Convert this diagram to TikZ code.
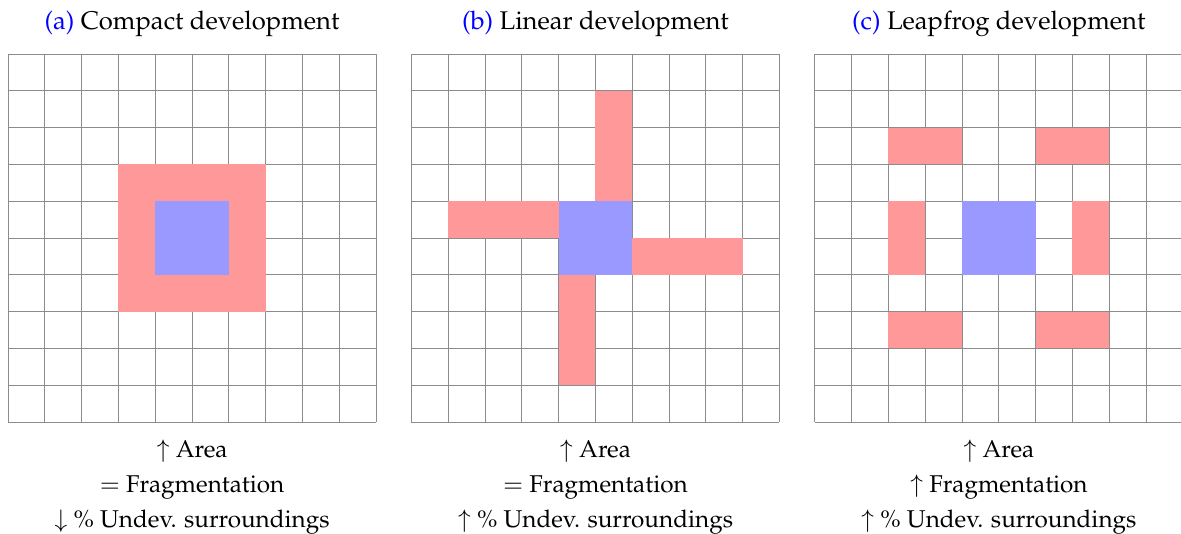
\documentclass[tikz,border=0pt]{standalone}
\usepackage[T1]{fontenc}
\usepackage{mathpazo}
\definecolor{devred}{RGB}{255,153,153}
\definecolor{devblue}{RGB}{153,153,255}
\definecolor{linkblue}{RGB}{0,0,255}
\begin{document}
\begin{tikzpicture}[x=0.75pt,y=-0.75pt,
  gridline/.style={draw=black!45, line width=0.7pt},
  ttl/.style={anchor=base, inner sep=0pt, font=\fontsize{19.2}{22}\selectfont},
  lbl/.style={anchor=base, inner sep=0pt, font=\fontsize{18.2}{22}\selectfont},
  redcell/.style={fill=devred},
  bluecell/.style={fill=devblue}]
\useasboundingbox (0,0) rectangle (1181,533);
\clip (0,0) rectangle (1181,533);
% ---------- grid (a)
\begin{scope}[shift={(8,54)}]
 \begin{scope}[x=27.6pt,y=-27.6pt]
  \foreach \i in {0,...,10} {\draw[gridline] (\i,0) -- (\i,10); \draw[gridline] (0,\i) -- (10,\i);}
  \fill[redcell] (3,3) rectangle (7,7);
  \fill[bluecell] (4,4) rectangle (6,6);
 \end{scope}
\end{scope}
% ---------- grid (b)
\begin{scope}[shift={(411.4,54)}]
 \begin{scope}[x=27.6pt,y=-27.6pt]
  \foreach \i in {0,...,10} {\draw[gridline] (\i,0) -- (\i,10); \draw[gridline] (0,\i) -- (10,\i);}
  \fill[redcell] (5,1) rectangle (6,4);
  \fill[redcell] (1,4) rectangle (4,5);
  \fill[redcell] (6,5) rectangle (9,6);
  \fill[redcell] (4,6) rectangle (5,9);
  \fill[bluecell] (4,4) rectangle (6,6);
 \end{scope}
\end{scope}
% ---------- grid (c)
\begin{scope}[shift={(814.8,54)}]
 \begin{scope}[x=27.6pt,y=-27.6pt]
  \foreach \i in {0,...,10} {\draw[gridline] (\i,0) -- (\i,10); \draw[gridline] (0,\i) -- (10,\i);}
  \fill[redcell] (2,2) rectangle (4,3);
  \fill[redcell] (6,2) rectangle (8,3);
  \fill[redcell] (2,4) rectangle (3,6);
  \fill[redcell] (7,4) rectangle (8,6);
  \fill[redcell] (2,7) rectangle (4,8);
  \fill[redcell] (6,7) rectangle (8,8);
  \fill[bluecell] (4,4) rectangle (6,6);
 \end{scope}
\end{scope}
% ---------- titles
\node[ttl] (ta) at (192,29) {{\color{linkblue}(a)} Compact development};
\node[ttl] (tb) at (595.4,29) {{\color{linkblue}(b)} Linear development};
\node[ttl] (tc) at (998.8,29) {{\color{linkblue}(c)} Leapfrog development};
% ---------- captions (a)
\node[lbl] (a1) at (192,457) {$\uparrow$ Area};
\node[lbl] (a2) at (192,492) {$=$ Fragmentation};
\node[lbl] (a3) at (192,527) {$\downarrow$ \% Undev. surroundings};
% ---------- captions (b)
\node[lbl] (b1) at (595.4,457) {$\uparrow$ Area};
\node[lbl] (b2) at (595.4,492) {$=$ Fragmentation};
\node[lbl] (b3) at (595.4,527) {$\uparrow$ \% Undev. surroundings};
% ---------- captions (c)
\node[lbl] (c1) at (998.8,457) {$\uparrow$ Area};
\node[lbl] (c2) at (998.8,492) {$\uparrow$ Fragmentation};
\node[lbl] (c3) at (998.8,527) {$\uparrow$ \% Undev. surroundings};
\end{tikzpicture}
\end{document}
